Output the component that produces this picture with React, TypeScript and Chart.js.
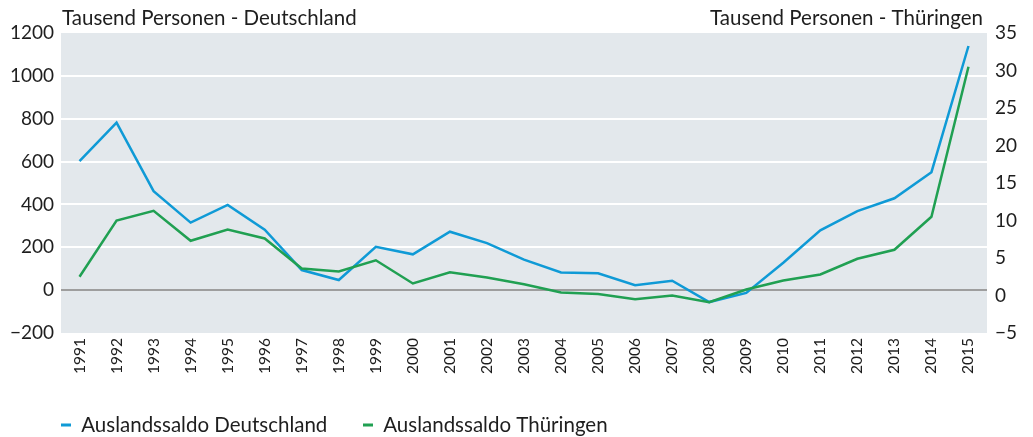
import React, { useEffect, useRef } from "react";
import { Chart, registerables } from "chart.js";

Chart.register(...registerables);

// ---- data ----
const years = [
  "1991", "1992", "1993", "1994", "1995", "1996", "1997", "1998", "1999", "2000",
  "2001", "2002", "2003", "2004", "2005", "2006", "2007", "2008", "2009", "2010",
  "2011", "2012", "2013", "2014", "2015",
];
const deutschland = [
  602.5, 782.1, 462.1, 315.0, 397.9, 282.2, 93.7, 47.1, 202.0, 167.1,
  272.7, 219.3, 142.6, 82.5, 79.0, 22.8, 43.9, -55.7, -12.8, 127.7,
  279.3, 368.9, 428.6, 550.5, 1139.4,
];
const thueringen = [
  2.5, 10.0, 11.3, 7.3, 8.8, 7.6, 3.6, 3.2, 4.7, 1.6,
  3.1, 2.4, 1.5, 0.4, 0.2, -0.5, 0.0, -0.9, 0.8, 2.0,
  2.8, 4.9, 6.1, 10.5, 30.5,
];
const seriesLabels = ["Auslandssaldo Deutschland", "Auslandssaldo Thüringen"];
const leftTitle = "Tausend Personen - Deutschland";
const rightTitle = "Tausend Personen - Thüringen";
const leftRange = [-200, 1200, 200];
const rightRange = [-5, 35, 5];

// ---- styles ----
const W = 1033;
const H = 437;
const FONT = "Lato, 'Noto Sans', sans-serif";
const FS = 20.5;
const TFS = 19;
const XFS = 15.5;
const TXT = "#1e1e1e";
const BLUE = "#0f9ad6";
const GREEN = "#20a052";
const BG = "#e3e8ec";
const AREA = { left: 61, right: 987, top: 33, bottom: 333 };
const LEG = { firstX: 61, secondX: 363, centerY: 425, box: 10, maxH: 48 };

function measure(text: string, font: string): number {
  const c = document.createElement("canvas");
  const ctx = c.getContext("2d")!;
  ctx.font = font;
  return ctx.measureText(text).width;
}

export default function App() {
  const ref = useRef<HTMLCanvasElement | null>(null);

  useEffect(() => {
    document.body.style.margin = "0";
    const legendFont = `${FS}px ${FONT}`;
    const tw = measure(seriesLabels[0], legendFont);
    const legPad = Math.max(4, LEG.secondX - LEG.firstX - LEG.box - FS / 2 - tw);

    const decor = {
      id: "decor",
      beforeDraw(chart: any) {
        const { ctx, chartArea: a } = chart;
        ctx.save();
        ctx.fillStyle = BG;
        ctx.fillRect(a.left, a.top, a.right - a.left, a.bottom - a.top);
        ctx.restore();
        const lg = chart.legend;
        if (lg) {
          lg.left = LEG.firstX - legPad;
          lg.top = LEG.centerY - legPad - FS / 2;
        }
      },
      afterDraw(chart: any) {
        const { ctx } = chart;
        ctx.save();
        ctx.font = `${FS}px ${FONT}`;
        ctx.fillStyle = TXT;
        ctx.textBaseline = "alphabetic";
        ctx.textAlign = "left";
        ctx.fillText(leftTitle, 62, 25);
        ctx.textAlign = "right";
        ctx.fillText(rightTitle, 983, 25);
        ctx.restore();
      },
    };

    const minus = (v: any) => String(v).replace("-", "\u2212");

    const chart = new Chart(ref.current!, {
      type: "line",
      data: {
        labels: years,
        datasets: [
          {
            label: seriesLabels[0],
            data: deutschland,
            borderColor: BLUE,
            backgroundColor: BLUE,
            borderWidth: 2.5,
            pointRadius: 0,
            tension: 0,
            yAxisID: "y",
            order: 2,
          },
          {
            label: seriesLabels[1],
            data: thueringen,
            borderColor: GREEN,
            backgroundColor: GREEN,
            borderWidth: 2.5,
            pointRadius: 0,
            tension: 0,
            yAxisID: "y1",
            order: 1,
          },
        ],
      },
      options: {
        animation: false,
        responsive: true,
        maintainAspectRatio: false,
        layout: { padding: { top: AREA.top, left: 0, right: 0, bottom: 0 } },
        font: { family: FONT, size: FS },
        plugins: {
          tooltip: { enabled: false },
          title: { display: false },
          legend: {
            display: true,
            position: "bottom",
            align: "start",
            maxHeight: LEG.maxH,
            labels: {
              boxWidth: LEG.box,
              boxHeight: 3,
              padding: legPad,
              color: TXT,
              font: { family: FONT, size: FS },
              sort: (a: any, b: any) => a.datasetIndex - b.datasetIndex,
              generateLabels: (c: any) =>
                (Chart.defaults.plugins.legend.labels as any)
                  .generateLabels(c)
                  .map((l: any) => ({ ...l, lineWidth: 0, fillStyle: l.strokeStyle })),
            },
          },
        },
        scales: {
          x: {
            type: "category",
            offset: true,
            grid: { display: false, drawTicks: false },
            border: { display: false },
            ticks: {
              autoSkip: false,
              maxRotation: 90,
              minRotation: 90,
              padding: 5,
              color: TXT,
              font: { family: FONT, size: XFS },
            },
            afterFit: (s: any) => {
              const lh = s.chart.legend ? s.chart.legend.height : 0;
              s.height = Math.max(0, H - AREA.bottom - lh);
            },
          },
          y: {
            type: "linear",
            position: "left",
            min: leftRange[0],
            max: leftRange[1],
            border: { display: false },
            grid: {
              drawTicks: false,
              lineWidth: 2,
              color: (c: any) => {
                const v = c.tick ? c.tick.value : null;
                if (v === 0) return "#9e9e9e";
                if (v === leftRange[0] || v === leftRange[1]) return "rgba(0,0,0,0)";
                return "#ffffff";
              },
            },
            ticks: {
              stepSize: leftRange[2],
              padding: 7,
              color: TXT,
              font: { family: FONT, size: TFS },
              callback: (v: any) => minus(v),
            },
            afterFit: (s: any) => {
              s.width = AREA.left;
            },
          },
          y1: {
            type: "linear",
            position: "right",
            min: rightRange[0],
            max: rightRange[1],
            border: { display: false },
            grid: { display: false, drawTicks: false },
            ticks: {
              stepSize: rightRange[2],
              padding: 8,
              color: TXT,
              font: { family: FONT, size: TFS },
              callback: (v: any) => minus(v),
            },
            afterFit: (s: any) => {
              s.width = W - AREA.right;
            },
          },
        },
      },
      plugins: [decor],
    } as any);

    return () => chart.destroy();
  }, []);

  return (
    <div style={{ width: W, height: H, position: "relative" }}>
      <canvas ref={ref} />
    </div>
  );
}
